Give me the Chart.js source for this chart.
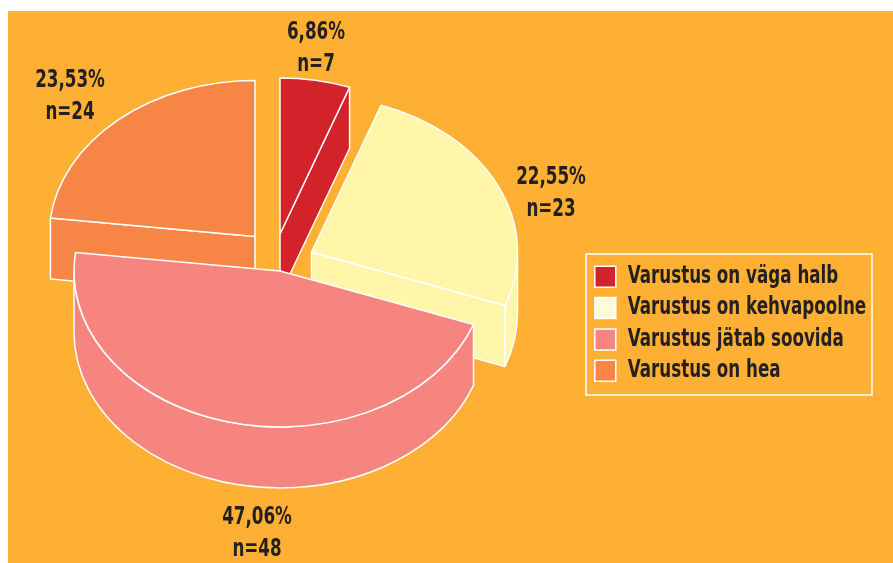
<!DOCTYPE html>
<html>
<head>
<meta charset="utf-8">
<script src="https://cdn.jsdelivr.net/npm/chart.js@4/dist/chart.umd.min.js"></script>
<style>
  html, body { margin: 0; padding: 0; background: #fff; overflow: hidden; }
  #wrap { position: absolute; left: 8px; top: 11px; width: 885px; height: 552px; }
  canvas { display: block; background: #FDB033; }
</style>
</head>
<body>
<div id="wrap"><canvas id="pie" width="885" height="552"></canvas></div>
<script>
const categories = ['Varustus on väga halb', 'Varustus on kehvapoolne', 'Varustus jätab soovida', 'Varustus on hea'];
const counts = [7, 23, 48, 24];
const sliceColors = ['#D2232A', '#FFF6A9', '#F6847F', '#F68546'];
const swatchColors = ['#D2232A', '#FFFBDA', '#F6847F', '#F68546'];

const textColor = '#231F20';
const fontFamily = '"DejaVu Sans Condensed", "DejaVu Sans", sans-serif';
const textSqueeze = 0.775; // the source type is much narrower than anything installed

const total = counts.reduce((a, b) => a + b, 0);

// the source pie is tilted, so every slice is an ellipse with a wall under it
const pie3d = {
    id: 'pie3d',
    install(chart) {
        // fillText takes a max width, use it to narrow legend and label text alike
        const ctx = chart.ctx;
        const fillText = ctx.fillText.bind(ctx);
        ctx.fillText = (text, x, y) => fillText(text, x, y, ctx.measureText(text).width * textSqueeze);
    },
    beforeDatasetDraw(chart, args, opts) {
        const ctx = chart.ctx;
        const arcs = chart.getDatasetMeta(0).data.map((arc, i) => ({ arc, i }));
        // back to front
        arcs.sort((a, b) => Math.sin((a.arc.startAngle + a.arc.endAngle) / 2) - Math.sin((b.arc.startAngle + b.arc.endAngle) / 2));
        ctx.save();
        ctx.strokeStyle = '#fff';
        ctx.lineWidth = opts.lineWidth;
        ctx.lineJoin = 'round';
        arcs.forEach(({ arc, i }) => {
            const x = arc.x + opts.shiftX[i];
            const y = arc.y + opts.shiftY[i];
            const rx = arc.outerRadius;
            const ry = rx * opts.tilt;
            const project = a => Math.atan2(Math.sin(a), opts.squeeze * Math.cos(a));
            const a0 = project(arc.startAngle);
            let a1 = project(arc.endAngle);
            if (a1 <= a0) a1 += Math.PI * 2;
            const px = a => x + rx * Math.cos(a);
            const py = a => y + ry * Math.sin(a);
            ctx.fillStyle = sliceColors[i];

            // flat side walls, only the ones facing the viewer
            [[a0, -Math.cos(arc.startAngle)], [a1, Math.cos(arc.endAngle)]].forEach(([a, facing]) => {
                if (facing <= 0.001) return;
                ctx.beginPath();
                ctx.moveTo(x, y);
                ctx.lineTo(px(a), py(a));
                ctx.lineTo(px(a), py(a) + opts.depth);
                ctx.lineTo(x, y + opts.depth);
                ctx.closePath();
                ctx.fill();
                ctx.stroke();
            });

            // round outer wall on the front half
            [0, Math.PI * 2].forEach(base => {
                const from = Math.max(a0, base);
                const to = Math.min(a1, base + Math.PI);
                if (to <= from) return;
                ctx.beginPath();
                ctx.ellipse(x, y, rx, ry, 0, from, to);
                ctx.ellipse(x, y + opts.depth, rx, ry, 0, to, from, true);
                ctx.closePath();
                ctx.fill();
                ctx.stroke();
            });

            // top face
            ctx.beginPath();
            ctx.moveTo(x, y);
            ctx.ellipse(x, y, rx, ry, 0, a0, a1);
            ctx.closePath();
            ctx.fill();
            ctx.stroke();
        });
        ctx.restore();
        return false;
    },
    afterLayout(chart, args, opts) {
        const lg = chart.legend;
        const w = lg.width, h = lg.height;
        lg.left = opts.legendX;
        lg.right = lg.left + w;
        lg.top = opts.legendY;
        lg.bottom = lg.top + h;
    },
    afterDraw(chart, args, opts) {
        const ctx = chart.ctx;
        ctx.save();
        // legend frame
        ctx.strokeStyle = '#fff';
        ctx.lineWidth = 1.5;
        ctx.strokeRect(opts.frame[0], opts.frame[1], opts.frame[2], opts.frame[3]);

        // percent and n above each other
        ctx.fillStyle = textColor;
        ctx.font = 'bold ' + opts.labelSize + 'px ' + fontFamily;
        ctx.textAlign = 'center';
        ctx.textBaseline = 'middle';
        counts.forEach((n, i) => {
            const pct = (n / total * 100).toFixed(2).replace('.', ',') + '%';
            ctx.fillText(pct, opts.labelX[i], opts.labelY[i]);
            ctx.fillText('n=' + n, opts.labelX[i], opts.labelY[i] + opts.labelGap);
        });
        ctx.restore();
    }
};

new Chart(document.getElementById('pie'), {
    type: 'pie',
    data: {
        labels: categories,
        datasets: [{
            data: counts,
            backgroundColor: sliceColors,
            borderColor: '#fff',
            borderWidth: 1.5
        }]
    },
    plugins: [pie3d],
    options: {
        responsive: false,
        animation: false,
        radius: 206,
        layout: { padding: { right: 341, bottom: 70 } },
        plugins: {
            tooltip: { enabled: false },
            legend: {
                position: 'chartArea',
                align: 'start',
                labels: {
                    color: textColor,
                    boxWidth: 21,
                    boxHeight: 21,
                    padding: 7.3,
                    font: { family: fontFamily, size: 24, weight: 'bold', lineHeight: 1 },
                    generateLabels(chart) {
                        return Chart.overrides.pie.plugins.legend.labels.generateLabels(chart).map((item, i) => {
                            item.fillStyle = swatchColors[i];
                            return item;
                        });
                    }
                }
            },
            pie3d: {
                tilt: 0.757,
                squeeze: 0.78,
                depth: 61,
                lineWidth: 1.5,
                shiftX: [0, 31.5, 0, -25],
                shiftY: [-18, 0, 19, -15.5],
                legendX: 579.5,
                legendY: 246.5,
                frame: [578, 243, 286, 141],
                labelSize: 24,
                labelGap: 32,
                labelX: [308, 543, 249, 62],
                labelY: [22, 167, 507, 70]
            }
        }
    }
});
</script>
</body>
</html>
